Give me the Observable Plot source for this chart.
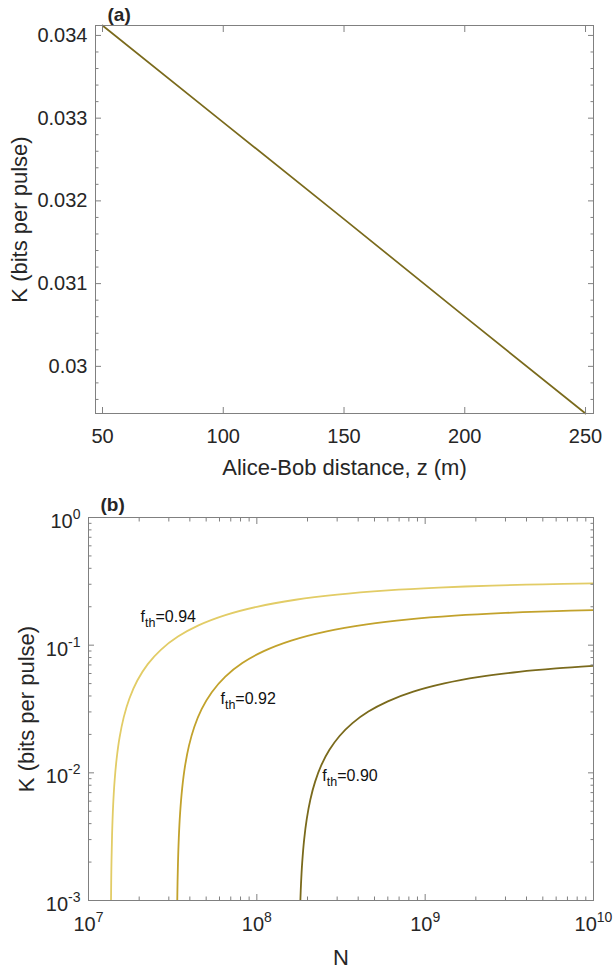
<!DOCTYPE html>
<html><head><meta charset="utf-8">
<script src="https://cdn.jsdelivr.net/npm/d3@7"></script>
<script src="https://cdn.jsdelivr.net/npm/@observablehq/plot@0.6"></script>
<style>
body{margin:0;background:#fff;}
#chart svg{display:block;}
</style></head><body><div id="chart"></div>
<script>
// ---------- Panel (a) data ----------
const distanceZ = [50, 100, 150, 200, 250];
const keyRateA = [0.03412, 0.03295, 0.03178, 0.03060, 0.02943];
const xTicksA = [50, 100, 150, 200, 250];
const xTickLabelsA = ["50", "100", "150", "200", "250"];
const yTicksA = [0.030, 0.031, 0.032, 0.033, 0.034];
const yTickLabelsA = ["0.03", "0.031", "0.032", "0.033", "0.034"];
const yMinorA = [0.0296, 0.0298, 0.0302, 0.0304, 0.0306, 0.0308, 0.0312, 0.0314, 0.0316, 0.0318,
  0.0322, 0.0324, 0.0326, 0.0328, 0.0332, 0.0334, 0.0336, 0.0338];

// ---------- Panel (b) data ----------
const seriesNames = ["0.94", "0.92", "0.90"];
const n094 = [1.3606e7, 1.365e7, 1.37e7, 1.38e7, 1.40e7, 1.43e7, 1.47e7, 1.53e7, 1.62e7, 1.75e7, 1.95e7, 2.25e7, 2.7e7,
  3.4e7, 4.5e7, 6.5e7, 1e8, 1.7e8, 3e8, 6e8, 1.2e9, 2.5e9, 5e9, 1e10];
const k094 = [0.001, 0.00151, 0.00208, 0.00322, 0.00547, 0.00874, 0.01295, 0.01895, 0.02732, 0.03825, 0.05288, 0.07105, 0.09239,
  0.1167, 0.1428, 0.1719, 0.1998, 0.2269, 0.2489, 0.2686, 0.2825, 0.2928, 0.2996, 0.3044];
const n092 = [3.3676e7, 3.38e7, 3.40e7, 3.44e7, 3.50e7, 3.60e7, 3.75e7, 3.95e7, 4.25e7, 4.7e7, 5.4e7, 6.5e7, 8.2e7,
  1.1e8, 1.6e8, 2.6e8, 4.5e8, 8e8, 1.5e9, 3e9, 6e9, 1e10];
const k092 = [0.001, 0.00137, 0.00195, 0.00311, 0.0048, 0.00753, 0.01142, 0.01626, 0.02286, 0.03155, 0.04285, 0.05676, 0.07247,
  0.08989, 0.1087, 0.1284, 0.1456, 0.1592, 0.1702, 0.1789, 0.1851, 0.1885];
const n090 = [1.8139e8, 1.83e8, 1.86e8, 1.91e8, 1.98e8, 2.08e8, 2.22e8, 2.42e8, 2.7e8, 3.1e8, 3.7e8, 4.6e8, 6e8,
  8.5e8, 1.3e9, 2.1e9, 3.6e9, 6e9, 1e10];
const k090 = [0.001, 0.00135, 0.00198, 0.003, 0.00436, 0.00619, 0.00853, 0.01152, 0.01514, 0.01943, 0.02451, 0.03017, 0.03629,
  0.04318, 0.05011, 0.05636, 0.0618, 0.06577, 0.06884];
const seriesColors = ["#e2cc66", "#c2a22c", "#7a6a1c"];
const labelN = [2.04e7, 6.08e7, 2.45e8];
const labelK = [0.168, 0.0382, 0.00953];
const xTicksB = [1e7, 1e8, 1e9, 1e10];
const xTickExpB = ["7", "8", "9", "10"];
const yTicksB = [1e-3, 1e-2, 1e-1, 1];
const yTickExpB = ["-3", "-2", "-1", "0"];
const xMinorB = [2e7,3e7,4e7,5e7,6e7,7e7,8e7,9e7,2e8,3e8,4e8,5e8,6e8,7e8,8e8,9e8,2e9,3e9,4e9,5e9,6e9,7e9,8e9,9e9];
const yMinorB = [2e-3,3e-3,4e-3,5e-3,6e-3,7e-3,8e-3,9e-3,2e-2,3e-2,4e-2,5e-2,6e-2,7e-2,8e-2,9e-2,0.2,0.3,0.4,0.5,0.6,0.7,0.8,0.9];

// ---------- styles ----------
const FONT = "'Liberation Sans', Arial, Helvetica, sans-serif";
const TXT = "#262626";
const AX = "#808080";
const MAJ = 6, MIN = 3.5;
const TICKFS = 20, LABFS = 22;
const styleObj = {fontFamily: FONT, fontSize: TICKFS + "px", color: TXT, background: "#fff", overflow: "visible"};

function tickAxes(axis, anchors, ticks, len) {
  const f = axis === "x" ? Plot.axisX : Plot.axisY;
  return anchors.map(a => f({ticks, anchor: a, tickSize: -len, fill: "none", stroke: AX, strokeWidth: 1, label: null}));
}

// ---------- Panel (a) ----------
const dataA = distanceZ.map((z, i) => ({z, k: keyRateA[i]}));
const plotA = Plot.plot({
  width: 613, height: 480,
  marginLeft: 95, marginRight: 20, marginTop: 25, marginBottom: 67,
  style: styleObj,
  x: {domain: [47.1, 253.3]},
  y: {domain: [0.02943, 0.03412]},
  marks: [
    Plot.line(dataA, {x: "z", y: "k", stroke: "#7a6a1c", strokeWidth: 1.7}),
    Plot.frame({stroke: AX, strokeWidth: 1}),
    ...tickAxes("x", ["bottom", "top"], xTicksA, MAJ),
    ...tickAxes("y", ["left", "right"], yTicksA, MAJ),
    ...tickAxes("y", ["left", "right"], yMinorA, MIN),
    Plot.axisX({ticks: xTicksA, anchor: "bottom", tickSize: 0, tickPadding: 15, fill: TXT, fontSize: TICKFS,
      tickFormat: d => xTickLabelsA[xTicksA.indexOf(d)], label: null}),
    Plot.axisY({ticks: yTicksA, anchor: "left", tickSize: 0, tickPadding: 8, fill: TXT, fontSize: TICKFS,
      tickFormat: d => yTickLabelsA[yTicksA.indexOf(d)], label: null}),
    Plot.text(["Alice-Bob distance, z (m)"], {text: d => d, frameAnchor: "bottom", dy: 54, lineAnchor: "middle", textAnchor: "middle", fontSize: LABFS, fill: TXT}),
    Plot.text(["K (bits per pulse)"], {text: d => d, frameAnchor: "left", dx: -76, rotate: -90, lineAnchor: "middle", textAnchor: "middle", fontSize: LABFS, fill: TXT}),
    Plot.text(["(a)"], {text: d => d, frameAnchor: "top-left", dx: 12, dy: -11, lineAnchor: "middle", textAnchor: "start", fontSize: 19, fontWeight: "bold", fill: TXT})
  ]
});

// ---------- Panel (b) ----------
const allN = [n094, n092, n090], allK = [k094, k092, k090];
const dataB = [];
seriesNames.forEach((s, j) => allN[j].forEach((n, i) => dataB.push({s, n, k: allK[j][i]})));
const labelsB = seriesNames.map((s, j) => ({t: "f_{th}=" + s, n: labelN[j], k: labelK[j]}));

const plotB = Plot.plot({
  width: 613, height: 491,
  marginLeft: 88, marginRight: 20, marginTop: 37, marginBottom: 71,
  style: styleObj,
  x: {type: "log", domain: [1e7, 1e10]},
  y: {type: "log", domain: [1e-3, 1]},
  color: {domain: seriesNames, range: seriesColors},
  marks: [
    Plot.line(dataB, {x: "n", y: "k", z: "s", stroke: "s", strokeWidth: 1.8, curve: "catmull-rom", clip: true}),
    Plot.frame({stroke: AX, strokeWidth: 1}),
    ...tickAxes("x", ["bottom", "top"], xTicksB, MAJ),
    ...tickAxes("x", ["bottom", "top"], xMinorB, MIN),
    ...tickAxes("y", ["left", "right"], yTicksB, MAJ),
    ...tickAxes("y", ["left", "right"], yMinorB, MIN),
    Plot.axisX({ticks: xTicksB, anchor: "bottom", tickSize: 0, tickPadding: 16, fill: TXT, fontSize: TICKFS,
      tickFormat: d => "10^" + xTickExpB[xTicksB.indexOf(d)], label: null}),
    Plot.axisY({ticks: yTicksB, anchor: "left", tickSize: 0, tickPadding: 8, dy: 4, fill: TXT, fontSize: TICKFS,
      tickFormat: d => "10^" + yTickExpB[yTicksB.indexOf(d)], label: null}),
    Plot.text(labelsB, {x: "n", y: "k", text: "t", textAnchor: "start", lineAnchor: "middle", fontSize: 16, fill: "#111"}),
    Plot.text(["N"], {text: d => d, frameAnchor: "bottom", dy: 57, lineAnchor: "middle", textAnchor: "middle", fontSize: LABFS, fill: TXT}),
    Plot.text(["K (bits per pulse)"], {text: d => d, frameAnchor: "left", dx: -62, rotate: -90, lineAnchor: "middle", textAnchor: "middle", fontSize: LABFS, fill: TXT}),
    Plot.text(["(b)"], {text: d => d, frameAnchor: "top-left", dx: 12, dy: -13, lineAnchor: "middle", textAnchor: "start", fontSize: 19, fontWeight: "bold", fill: TXT})
  ]
});

// ---------- rich text (superscripts / subscripts) ----------
const NS = "http://www.w3.org/2000/svg";
function ts(str, attrs) {
  const e = document.createElementNS(NS, "tspan");
  e.textContent = str;
  if (attrs) for (const k in attrs) e.setAttribute(k, attrs[k]);
  return e;
}
function richText(svg) {
  svg.querySelectorAll("text").forEach(t => {
    if (t.querySelector("tspan")) return;
    const s = t.textContent;
    let m;
    if ((m = s.match(/^(.*)\^(.*)$/))) {
      t.textContent = "";
      t.append(ts(m[1]), ts(m[2], {"dy": "-9", "font-size": "14"}));
    } else if ((m = s.match(/^(.*)_\{(.*)\}(.*)$/))) {
      t.textContent = "";
      t.append(ts(m[1]), ts(m[2], {"dy": "5.5", "font-size": "12.5"}), ts(m[3], {"dy": "-5.5"}));
    }
  });
}
richText(plotB);

const chart = document.getElementById("chart");
chart.append(plotA, plotB);
</script>
</body></html>
